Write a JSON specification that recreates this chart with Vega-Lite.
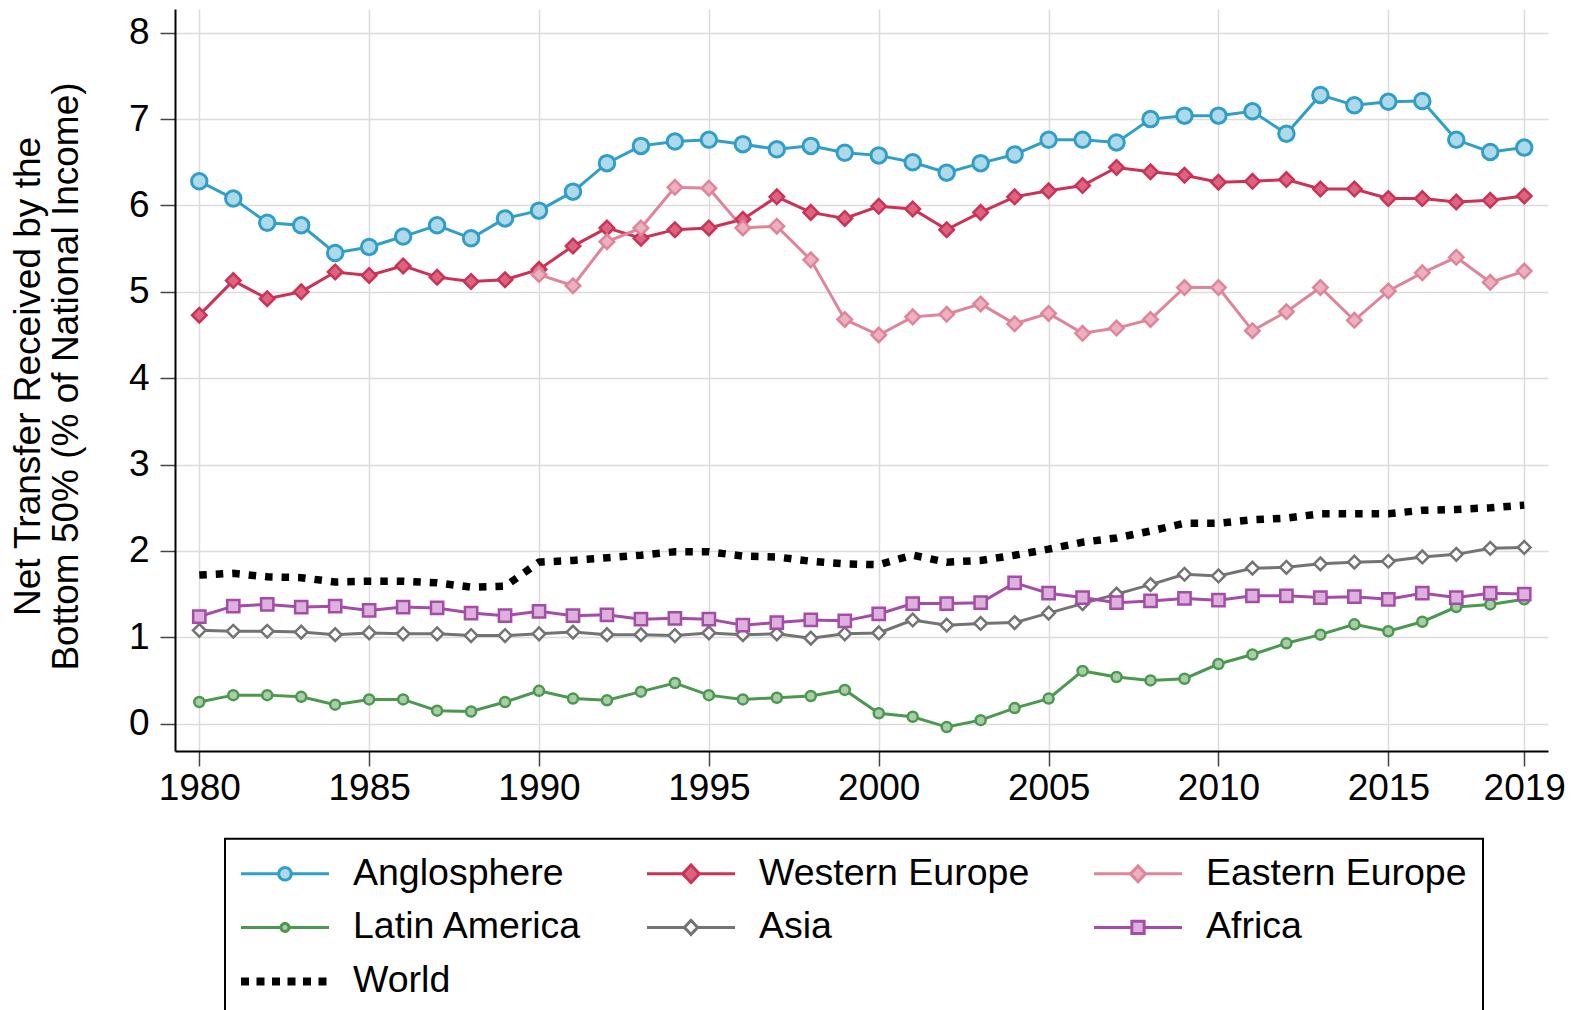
{
  "$schema": "https://vega.github.io/schema/vega-lite/v6.json",
  "width": 1373,
  "height": 742,
  "autosize": {"type": "none"},
  "padding": {"left": 175, "top": 9, "right": 29, "bottom": 259},
  "background": "white",
  "config": {
    "font": "Liberation Sans",
    "view": {"stroke": null},
    "axis": {
      "grid": true,
      "gridColor": "#dcdcdc",
      "gridWidth": 1.5,
      "domainColor": "black",
      "domainWidth": 2,
      "tickColor": "#444444",
      "tickWidth": 1.5,
      "tickSize": 15,
      "labelFont": "Liberation Sans",
      "labelFontSize": 37,
      "labelColor": "black",
      "titleFont": "Liberation Sans",
      "titleColor": "black"
    }
  },
  "data": {"values": [
    {"year":1980,"region":"Anglosphere","value":6.28},{"year":1981,"region":"Anglosphere","value":6.08},{"year":1982,"region":"Anglosphere","value":5.80},{"year":1983,"region":"Anglosphere","value":5.77},{"year":1984,"region":"Anglosphere","value":5.45},{"year":1985,"region":"Anglosphere","value":5.52},{"year":1986,"region":"Anglosphere","value":5.64},{"year":1987,"region":"Anglosphere","value":5.77},{"year":1988,"region":"Anglosphere","value":5.62},{"year":1989,"region":"Anglosphere","value":5.85},
    {"year":1990,"region":"Anglosphere","value":5.94},{"year":1991,"region":"Anglosphere","value":6.16},{"year":1992,"region":"Anglosphere","value":6.49},{"year":1993,"region":"Anglosphere","value":6.69},{"year":1994,"region":"Anglosphere","value":6.74},{"year":1995,"region":"Anglosphere","value":6.76},{"year":1996,"region":"Anglosphere","value":6.71},{"year":1997,"region":"Anglosphere","value":6.65},{"year":1998,"region":"Anglosphere","value":6.69},{"year":1999,"region":"Anglosphere","value":6.61},
    {"year":2000,"region":"Anglosphere","value":6.58},{"year":2001,"region":"Anglosphere","value":6.50},{"year":2002,"region":"Anglosphere","value":6.38},{"year":2003,"region":"Anglosphere","value":6.49},{"year":2004,"region":"Anglosphere","value":6.59},{"year":2005,"region":"Anglosphere","value":6.76},{"year":2006,"region":"Anglosphere","value":6.76},{"year":2007,"region":"Anglosphere","value":6.73},{"year":2008,"region":"Anglosphere","value":7.00},{"year":2009,"region":"Anglosphere","value":7.04},
    {"year":2010,"region":"Anglosphere","value":7.04},{"year":2011,"region":"Anglosphere","value":7.09},{"year":2012,"region":"Anglosphere","value":6.83},{"year":2013,"region":"Anglosphere","value":7.28},{"year":2014,"region":"Anglosphere","value":7.16},{"year":2015,"region":"Anglosphere","value":7.20},{"year":2016,"region":"Anglosphere","value":7.21},{"year":2017,"region":"Anglosphere","value":6.76},{"year":2018,"region":"Anglosphere","value":6.62},{"year":2019,"region":"Anglosphere","value":6.67},

    {"year":1980,"region":"Western Europe","value":4.73},{"year":1981,"region":"Western Europe","value":5.13},{"year":1982,"region":"Western Europe","value":4.92},{"year":1983,"region":"Western Europe","value":5.00},{"year":1984,"region":"Western Europe","value":5.23},{"year":1985,"region":"Western Europe","value":5.19},{"year":1986,"region":"Western Europe","value":5.30},{"year":1987,"region":"Western Europe","value":5.17},{"year":1988,"region":"Western Europe","value":5.12},{"year":1989,"region":"Western Europe","value":5.14},
    {"year":1990,"region":"Western Europe","value":5.26},{"year":1991,"region":"Western Europe","value":5.53},{"year":1992,"region":"Western Europe","value":5.74},{"year":1993,"region":"Western Europe","value":5.62},{"year":1994,"region":"Western Europe","value":5.72},{"year":1995,"region":"Western Europe","value":5.74},{"year":1996,"region":"Western Europe","value":5.84},{"year":1997,"region":"Western Europe","value":6.10},{"year":1998,"region":"Western Europe","value":5.92},{"year":1999,"region":"Western Europe","value":5.85},
    {"year":2000,"region":"Western Europe","value":5.99},{"year":2001,"region":"Western Europe","value":5.96},{"year":2002,"region":"Western Europe","value":5.72},{"year":2003,"region":"Western Europe","value":5.92},{"year":2004,"region":"Western Europe","value":6.10},{"year":2005,"region":"Western Europe","value":6.17},{"year":2006,"region":"Western Europe","value":6.23},{"year":2007,"region":"Western Europe","value":6.44},{"year":2008,"region":"Western Europe","value":6.39},{"year":2009,"region":"Western Europe","value":6.35},
    {"year":2010,"region":"Western Europe","value":6.27},{"year":2011,"region":"Western Europe","value":6.28},{"year":2012,"region":"Western Europe","value":6.30},{"year":2013,"region":"Western Europe","value":6.19},{"year":2014,"region":"Western Europe","value":6.19},{"year":2015,"region":"Western Europe","value":6.08},{"year":2016,"region":"Western Europe","value":6.08},{"year":2017,"region":"Western Europe","value":6.04},{"year":2018,"region":"Western Europe","value":6.06},{"year":2019,"region":"Western Europe","value":6.11},

    {"year":1990,"region":"Eastern Europe","value":5.20},{"year":1991,"region":"Eastern Europe","value":5.07},{"year":1992,"region":"Eastern Europe","value":5.58},{"year":1993,"region":"Eastern Europe","value":5.74},{"year":1994,"region":"Eastern Europe","value":6.21},{"year":1995,"region":"Eastern Europe","value":6.20},{"year":1996,"region":"Eastern Europe","value":5.74},{"year":1997,"region":"Eastern Europe","value":5.76},{"year":1998,"region":"Eastern Europe","value":5.37},{"year":1999,"region":"Eastern Europe","value":4.68},
    {"year":2000,"region":"Eastern Europe","value":4.50},{"year":2001,"region":"Eastern Europe","value":4.71},{"year":2002,"region":"Eastern Europe","value":4.74},{"year":2003,"region":"Eastern Europe","value":4.86},{"year":2004,"region":"Eastern Europe","value":4.63},{"year":2005,"region":"Eastern Europe","value":4.75},{"year":2006,"region":"Eastern Europe","value":4.52},{"year":2007,"region":"Eastern Europe","value":4.58},{"year":2008,"region":"Eastern Europe","value":4.68},{"year":2009,"region":"Eastern Europe","value":5.05},
    {"year":2010,"region":"Eastern Europe","value":5.05},{"year":2011,"region":"Eastern Europe","value":4.55},{"year":2012,"region":"Eastern Europe","value":4.77},{"year":2013,"region":"Eastern Europe","value":5.05},{"year":2014,"region":"Eastern Europe","value":4.67},{"year":2015,"region":"Eastern Europe","value":5.01},{"year":2016,"region":"Eastern Europe","value":5.22},{"year":2017,"region":"Eastern Europe","value":5.40},{"year":2018,"region":"Eastern Europe","value":5.11},{"year":2019,"region":"Eastern Europe","value":5.24},

    {"year":1980,"region":"Latin America","value":0.25},{"year":1981,"region":"Latin America","value":0.33},{"year":1982,"region":"Latin America","value":0.33},{"year":1983,"region":"Latin America","value":0.31},{"year":1984,"region":"Latin America","value":0.22},{"year":1985,"region":"Latin America","value":0.28},{"year":1986,"region":"Latin America","value":0.28},{"year":1987,"region":"Latin America","value":0.15},{"year":1988,"region":"Latin America","value":0.14},{"year":1989,"region":"Latin America","value":0.25},
    {"year":1990,"region":"Latin America","value":0.38},{"year":1991,"region":"Latin America","value":0.29},{"year":1992,"region":"Latin America","value":0.27},{"year":1993,"region":"Latin America","value":0.37},{"year":1994,"region":"Latin America","value":0.47},{"year":1995,"region":"Latin America","value":0.33},{"year":1996,"region":"Latin America","value":0.28},{"year":1997,"region":"Latin America","value":0.30},{"year":1998,"region":"Latin America","value":0.32},{"year":1999,"region":"Latin America","value":0.39},
    {"year":2000,"region":"Latin America","value":0.12},{"year":2001,"region":"Latin America","value":0.08},{"year":2002,"region":"Latin America","value":-0.04},{"year":2003,"region":"Latin America","value":0.04},{"year":2004,"region":"Latin America","value":0.18},{"year":2005,"region":"Latin America","value":0.29},{"year":2006,"region":"Latin America","value":0.61},{"year":2007,"region":"Latin America","value":0.54},{"year":2008,"region":"Latin America","value":0.50},{"year":2009,"region":"Latin America","value":0.52},
    {"year":2010,"region":"Latin America","value":0.69},{"year":2011,"region":"Latin America","value":0.80},{"year":2012,"region":"Latin America","value":0.93},{"year":2013,"region":"Latin America","value":1.03},{"year":2014,"region":"Latin America","value":1.15},{"year":2015,"region":"Latin America","value":1.07},{"year":2016,"region":"Latin America","value":1.18},{"year":2017,"region":"Latin America","value":1.35},{"year":2018,"region":"Latin America","value":1.38},{"year":2019,"region":"Latin America","value":1.44},

    {"year":1980,"region":"Asia","value":1.08},{"year":1981,"region":"Asia","value":1.07},{"year":1982,"region":"Asia","value":1.07},{"year":1983,"region":"Asia","value":1.06},{"year":1984,"region":"Asia","value":1.03},{"year":1985,"region":"Asia","value":1.05},{"year":1986,"region":"Asia","value":1.04},{"year":1987,"region":"Asia","value":1.04},{"year":1988,"region":"Asia","value":1.02},{"year":1989,"region":"Asia","value":1.02},
    {"year":1990,"region":"Asia","value":1.04},{"year":1991,"region":"Asia","value":1.06},{"year":1992,"region":"Asia","value":1.03},{"year":1993,"region":"Asia","value":1.03},{"year":1994,"region":"Asia","value":1.02},{"year":1995,"region":"Asia","value":1.05},{"year":1996,"region":"Asia","value":1.03},{"year":1997,"region":"Asia","value":1.04},{"year":1998,"region":"Asia","value":0.99},{"year":1999,"region":"Asia","value":1.04},
    {"year":2000,"region":"Asia","value":1.05},{"year":2001,"region":"Asia","value":1.20},{"year":2002,"region":"Asia","value":1.14},{"year":2003,"region":"Asia","value":1.16},{"year":2004,"region":"Asia","value":1.17},{"year":2005,"region":"Asia","value":1.28},{"year":2006,"region":"Asia","value":1.39},{"year":2007,"region":"Asia","value":1.50},{"year":2008,"region":"Asia","value":1.61},{"year":2009,"region":"Asia","value":1.73},
    {"year":2010,"region":"Asia","value":1.71},{"year":2011,"region":"Asia","value":1.80},{"year":2012,"region":"Asia","value":1.81},{"year":2013,"region":"Asia","value":1.85},{"year":2014,"region":"Asia","value":1.87},{"year":2015,"region":"Asia","value":1.88},{"year":2016,"region":"Asia","value":1.93},{"year":2017,"region":"Asia","value":1.96},{"year":2018,"region":"Asia","value":2.03},{"year":2019,"region":"Asia","value":2.04},

    {"year":1980,"region":"Africa","value":1.24},{"year":1981,"region":"Africa","value":1.36},{"year":1982,"region":"Africa","value":1.38},{"year":1983,"region":"Africa","value":1.35},{"year":1984,"region":"Africa","value":1.36},{"year":1985,"region":"Africa","value":1.31},{"year":1986,"region":"Africa","value":1.35},{"year":1987,"region":"Africa","value":1.34},{"year":1988,"region":"Africa","value":1.28},{"year":1989,"region":"Africa","value":1.25},
    {"year":1990,"region":"Africa","value":1.30},{"year":1991,"region":"Africa","value":1.25},{"year":1992,"region":"Africa","value":1.26},{"year":1993,"region":"Africa","value":1.21},{"year":1994,"region":"Africa","value":1.22},{"year":1995,"region":"Africa","value":1.21},{"year":1996,"region":"Africa","value":1.14},{"year":1997,"region":"Africa","value":1.17},{"year":1998,"region":"Africa","value":1.20},{"year":1999,"region":"Africa","value":1.19},
    {"year":2000,"region":"Africa","value":1.27},{"year":2001,"region":"Africa","value":1.39},{"year":2002,"region":"Africa","value":1.39},{"year":2003,"region":"Africa","value":1.40},{"year":2004,"region":"Africa","value":1.63},{"year":2005,"region":"Africa","value":1.51},{"year":2006,"region":"Africa","value":1.46},{"year":2007,"region":"Africa","value":1.40},{"year":2008,"region":"Africa","value":1.42},{"year":2009,"region":"Africa","value":1.45},
    {"year":2010,"region":"Africa","value":1.43},{"year":2011,"region":"Africa","value":1.48},{"year":2012,"region":"Africa","value":1.48},{"year":2013,"region":"Africa","value":1.46},{"year":2014,"region":"Africa","value":1.47},{"year":2015,"region":"Africa","value":1.44},{"year":2016,"region":"Africa","value":1.51},{"year":2017,"region":"Africa","value":1.46},{"year":2018,"region":"Africa","value":1.51},{"year":2019,"region":"Africa","value":1.50},

    {"year":1980,"region":"World","value":1.72},{"year":1981,"region":"World","value":1.74},{"year":1982,"region":"World","value":1.70},{"year":1983,"region":"World","value":1.69},{"year":1984,"region":"World","value":1.64},{"year":1985,"region":"World","value":1.65},{"year":1986,"region":"World","value":1.65},{"year":1987,"region":"World","value":1.63},{"year":1988,"region":"World","value":1.58},{"year":1989,"region":"World","value":1.59},
    {"year":1990,"region":"World","value":1.87},{"year":1991,"region":"World","value":1.89},{"year":1992,"region":"World","value":1.92},{"year":1993,"region":"World","value":1.95},{"year":1994,"region":"World","value":1.99},{"year":1995,"region":"World","value":1.99},{"year":1996,"region":"World","value":1.94},{"year":1997,"region":"World","value":1.93},{"year":1998,"region":"World","value":1.88},{"year":1999,"region":"World","value":1.85},
    {"year":2000,"region":"World","value":1.84},{"year":2001,"region":"World","value":1.95},{"year":2002,"region":"World","value":1.87},{"year":2003,"region":"World","value":1.89},{"year":2004,"region":"World","value":1.95},{"year":2005,"region":"World","value":2.02},{"year":2006,"region":"World","value":2.10},{"year":2007,"region":"World","value":2.15},{"year":2008,"region":"World","value":2.23},{"year":2009,"region":"World","value":2.32},
    {"year":2010,"region":"World","value":2.32},{"year":2011,"region":"World","value":2.36},{"year":2012,"region":"World","value":2.38},{"year":2013,"region":"World","value":2.43},{"year":2014,"region":"World","value":2.43},{"year":2015,"region":"World","value":2.43},{"year":2016,"region":"World","value":2.47},{"year":2017,"region":"World","value":2.48},{"year":2018,"region":"World","value":2.50},{"year":2019,"region":"World","value":2.53}
  ]},
  "encoding": {
    "x": {
      "field": "year", "type": "quantitative",
      "scale": {"domain": [1979.285, 2019.7], "nice": false, "zero": false},
      "axis": {
        "title": null,
        "values": [1980, 1985, 1990, 1995, 2000, 2005, 2010, 2015, 2019],
        "format": "d",
        "labelPadding": 4,
        "labelFlush": false,
        "labelOverlap": false
      }
    },
    "y": {
      "field": "value", "type": "quantitative",
      "scale": {"domain": [-0.317, 8.275], "nice": false, "zero": false},
      "axis": {
        "values": [0, 1, 2, 3, 4, 5, 6, 7, 8],
        "labelPadding": 11,
        "title": ["Net Transfer Received by the", "Bottom 50% (% of National Income)"],
        "titleFontSize": 37,
        "titleFontWeight": "normal",
        "titleLineHeight": 38,
        "titleAngle": -90,
        "titleAlign": "center",
        "titleBaseline": "middle",
        "titleX": -146.25,
        "titleY": 367
      }
    }
  },
  "layer": [
    {
      "transform": [{"filter": "datum.region !== 'World'"}],
      "mark": {"type": "line", "strokeWidth": 3},
      "encoding": {
        "color": {
          "field": "region", "type": "nominal",
          "scale": {
            "domain": ["Anglosphere", "Western Europe", "Eastern Europe", "Latin America", "Asia", "Africa", "World"],
            "range": ["#2f9fca", "#cc3256", "#e0849a", "#4b984f", "#737373", "#a54ba8", "#000000"]
          },
          "legend": {
            "title": null,
            "orient": "none",
            "legendX": 50,
            "legendY": 829.7,
            "columns": 3,
            "direction": "horizontal",
            "labelFont": "Liberation Sans",
            "labelFontSize": 37.5,
            "labelColor": "black",
            "labelLimit": 1000,
            "labelOffset": 49.25,
            "symbolOffset": 25.25,
            "symbolSize": 100,
            "symbolStrokeWidth": 3,
            "columnPadding": 58,
            "rowPadding": 15,
            "padding": 16,
            "strokeColor": "black",
            "fillColor": "white",
            "encode": {
              "legend": {"update": {"strokeWidth": {"value": 2}}},
              "symbols": {"update": {
                "shape": {"signal": "(datum.value === 'Anglosphere' ? 'M-8.8,0L-1.25,0M1.25,0L8.8,0M1.25,0A1.25,1.25,0,1,1,-1.25,0A1.25,1.25,0,1,1,1.25,0Z' : datum.value === 'Western Europe' ? 'M-8.8,0L-1.67,0M1.67,0L8.8,0M-1.67,0L0,-1.76L1.67,0L0,1.76Z' : datum.value === 'Eastern Europe' ? 'M-8.8,0L-1.5,0M1.5,0L8.8,0M-1.5,0L0,-1.58L1.5,0L0,1.58Z' : datum.value === 'Latin America' ? 'M-8.8,0L-0.8,0M0.8,0L8.8,0M0.8,0A0.8,0.8,0,1,1,-0.8,0A0.8,0.8,0,1,1,0.8,0Z' : datum.value === 'Asia' ? 'M-8.8,0L-1.32,0M1.32,0L8.8,0M-1.32,0L0,-1.41L1.32,0L0,1.41Z' : datum.value === 'Africa' ? 'M-8.8,0L-1.23,0M1.23,0L8.8,0M-1.23,-1.23L1.23,-1.23L1.23,1.23L-1.23,1.23Z' : 'M-8.8,0L8.8,0')"},
                "fill": {"signal": "(datum.value === 'Anglosphere' ? '#aed9e8' : datum.value === 'Western Europe' ? '#db6580' : datum.value === 'Eastern Europe' ? '#ebb1bf' : datum.value === 'Latin America' ? '#a9cda9' : datum.value === 'Asia' ? '#ffffff' : datum.value === 'Africa' ? '#dcb1dc' : 'transparent')"},
                "strokeWidth": {"signal": "(datum.value === 'World' ? 8 : 3)"},
                "strokeDash": {"signal": "(datum.value === 'World' ? [8, 7.5] : [1, 0])"},
                "strokeCap": {"value": "butt"},
                "opacity": {"value": 1}
              }}
            }
          }
        }
      }
    },
    {
      "transform": [{"filter": "datum.region === 'Anglosphere'"}],
      "mark": {"type": "point", "shape": "circle", "size": 240, "filled": true, "fill": "#aed9e8", "stroke": "#2f9fca", "strokeWidth": 3, "opacity": 1}
    },
    {
      "transform": [{"filter": "datum.region === 'Western Europe'"}],
      "mark": {"type": "point", "shape": "diamond", "size": 210, "filled": true, "fill": "#db6580", "stroke": "#cc3256", "strokeWidth": 2.5, "opacity": 1}
    },
    {
      "transform": [{"filter": "datum.region === 'Eastern Europe'"}],
      "mark": {"type": "point", "shape": "diamond", "size": 210, "filled": true, "fill": "#ebb1bf", "stroke": "#e0849a", "strokeWidth": 2.5, "opacity": 1}
    },
    {
      "transform": [{"filter": "datum.region === 'Latin America'"}],
      "mark": {"type": "point", "shape": "circle", "size": 100, "filled": true, "fill": "#a9cda9", "stroke": "#4b984f", "strokeWidth": 2.5, "opacity": 1}
    },
    {
      "transform": [{"filter": "datum.region === 'Asia'"}],
      "mark": {"type": "point", "shape": "diamond", "size": 160, "filled": true, "fill": "#ffffff", "stroke": "#737373", "strokeWidth": 2.5, "opacity": 1}
    },
    {
      "transform": [{"filter": "datum.region === 'Africa'"}],
      "mark": {"type": "point", "shape": "square", "size": 150, "filled": true, "fill": "#dcb1dc", "stroke": "#a54ba8", "strokeWidth": 2.5, "opacity": 1}
    },
    {
      "transform": [{"filter": "datum.region === 'World'"}],
      "mark": {"type": "line", "strokeWidth": 7.5, "strokeDash": [7.5, 9], "strokeCap": "butt"},
      "encoding": {
        "color": {
          "field": "region", "type": "nominal",
          "scale": {
            "domain": ["Anglosphere", "Western Europe", "Eastern Europe", "Latin America", "Asia", "Africa", "World"],
            "range": ["#2f9fca", "#cc3256", "#e0849a", "#4b984f", "#737373", "#a54ba8", "#000000"]
          },
          "legend": {
            "title": null,
            "orient": "none",
            "legendX": 50,
            "legendY": 829.7,
            "columns": 3,
            "direction": "horizontal",
            "labelFont": "Liberation Sans",
            "labelFontSize": 37.5,
            "labelColor": "black",
            "labelLimit": 1000,
            "labelOffset": 49.25,
            "symbolOffset": 25.25,
            "symbolSize": 100,
            "symbolStrokeWidth": 3,
            "columnPadding": 58,
            "rowPadding": 15,
            "padding": 16,
            "strokeColor": "black",
            "fillColor": "white",
            "encode": {
              "legend": {"update": {"strokeWidth": {"value": 2}}},
              "symbols": {"update": {
                "shape": {"signal": "(datum.value === 'Anglosphere' ? 'M-8.8,0L-1.25,0M1.25,0L8.8,0M1.25,0A1.25,1.25,0,1,1,-1.25,0A1.25,1.25,0,1,1,1.25,0Z' : datum.value === 'Western Europe' ? 'M-8.8,0L-1.67,0M1.67,0L8.8,0M-1.67,0L0,-1.76L1.67,0L0,1.76Z' : datum.value === 'Eastern Europe' ? 'M-8.8,0L-1.5,0M1.5,0L8.8,0M-1.5,0L0,-1.58L1.5,0L0,1.58Z' : datum.value === 'Latin America' ? 'M-8.8,0L-0.8,0M0.8,0L8.8,0M0.8,0A0.8,0.8,0,1,1,-0.8,0A0.8,0.8,0,1,1,0.8,0Z' : datum.value === 'Asia' ? 'M-8.8,0L-1.32,0M1.32,0L8.8,0M-1.32,0L0,-1.41L1.32,0L0,1.41Z' : datum.value === 'Africa' ? 'M-8.8,0L-1.23,0M1.23,0L8.8,0M-1.23,-1.23L1.23,-1.23L1.23,1.23L-1.23,1.23Z' : 'M-8.8,0L8.8,0')"},
                "fill": {"signal": "(datum.value === 'Anglosphere' ? '#aed9e8' : datum.value === 'Western Europe' ? '#db6580' : datum.value === 'Eastern Europe' ? '#ebb1bf' : datum.value === 'Latin America' ? '#a9cda9' : datum.value === 'Asia' ? '#ffffff' : datum.value === 'Africa' ? '#dcb1dc' : 'transparent')"},
                "strokeWidth": {"signal": "(datum.value === 'World' ? 8 : 3)"},
                "strokeDash": {"signal": "(datum.value === 'World' ? [8, 7.5] : [1, 0])"},
                "strokeCap": {"value": "butt"},
                "opacity": {"value": 1}
              }}
            }
          }
        }
      }
    }
  ]
}
